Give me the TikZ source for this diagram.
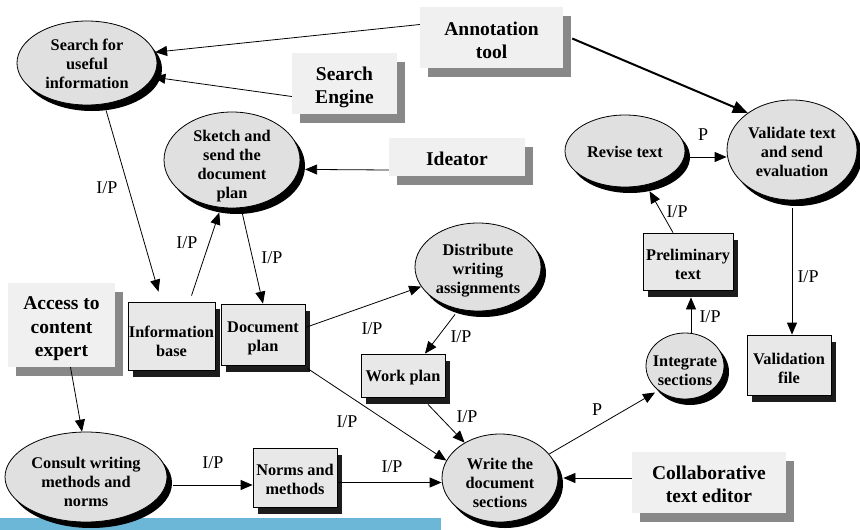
\documentclass[tikz,border=0pt]{standalone}
\usepackage{fontspec}
\setmainfont{Liberation Serif}
\usetikzlibrary{shapes.geometric,shadows,arrows.meta}
\definecolor{procfill}{RGB}{224,224,224}
\definecolor{storefill}{RGB}{232,232,232}
\definecolor{toolfill}{RGB}{240,240,240}
\definecolor{toolshadow}{RGB}{136,136,136}
\definecolor{storeshadow}{RGB}{28,28,28}
\definecolor{barblue}{RGB}{108,182,216}
\begin{document}
\begin{tikzpicture}[x=1pt,y=-1pt,
  sz/.style 2 args={minimum width=#1pt, minimum height=#2pt},
  proc/.style={ellipse, draw=black, line width=0.8pt, fill=procfill, inner sep=0pt,
    drop shadow={shadow xshift=5pt, shadow yshift=-6pt, fill=black, opacity=1}},
  store/.style={rectangle, draw=black, line width=0.8pt, fill=storefill, inner sep=0pt,
    drop shadow={shadow xshift=5pt, shadow yshift=-7pt, fill=storeshadow, opacity=1}},
  tool/.style={rectangle, fill=toolfill, inner sep=0pt,
    drop shadow={shadow xshift=8pt, shadow yshift=-9pt, fill=toolshadow, opacity=1}},
  ptext/.style={inner sep=0pt, align=center, font=\bfseries\fontsize{16.3}{19}\selectfont},
  ttext/.style={inner sep=0pt, align=center, font=\bfseries\fontsize{19.5}{23.5}\selectfont},
  flow/.style={-{Triangle[length=12pt,width=10pt]}, line width=0.8pt},
  bigflow/.style={-{Triangle[length=15pt,width=12pt]}, line width=2pt},
  lbl/.style={font=\fontsize{18}{20}\selectfont, inner sep=0pt}]
\useasboundingbox (0,0) rectangle (860,530);

% bottom band
\fill[barblue] (0,518) rectangle (441,530);

% processes
\node[proc, sz={140}{84}] (srch) at (87,63) {};
\node[proc, sz={136}{96}] (sketch) at (232,160) {};
\node[proc, sz={126}{88}] (distr) at (478,267) {};
\node[proc, sz={120}{72}] (revise) at (625,151) {};
\node[proc, sz={130}{100}] (valid) at (792,150) {};
\node[proc, sz={78}{66}] (integ) at (685,366) {};
\node[proc, sz={116}{88}] (write) at (500,478) {};
\node[proc, sz={162}{90}] (consult) at (86,477) {};

\node[ptext] (srch-t) at ([yshift=-1pt]srch) {Search for\\useful\\information};
\node[ptext] (sketch-t) at ([yshift=-6pt]sketch) {Sketch and\\send the\\document\\plan};
\node[ptext] (distr-t) at ([yshift=-4pt]distr) {Distribute\\writing\\assignments};
\node[ptext] (revise-t) at ([yshift=-1pt]revise) {Revise text};
\node[ptext] (valid-t) at ([yshift=-2pt]valid) {Validate text\\and send\\evaluation};
\node[ptext] (integ-t) at ([yshift=-5pt]integ) {Integrate\\sections};
\node[ptext] (write-t) at ([yshift=-5pt]write) {Write the\\document\\sections};
\node[ptext] (consult-t) at ([yshift=-5pt]consult) {Consult writing\\methods and\\norms};

% documents
\node[store, sz={87}{68}] (infob) at (171.5,336) {};
\node[store, sz={84}{61}] (docplan) at (263,334.5) {};
\node[store, sz={84}{43}] (workplan) at (403,375.5) {};
\node[store, sz={84}{59}] (norms) at (295,477.5) {};
\node[store, sz={90}{57}] (prelim) at (688,261.5) {};
\node[store, sz={84}{60}] (vfile) at (789,365) {};

\node[ptext] (infob-t) at ([yshift=-5pt]infob) {Information\\base};
\node[ptext] (docplan-t) at ([yshift=-4pt]docplan) {Document\\plan};
\node[ptext] (workplan-t) at ([yshift=-2pt]workplan) {Work plan};
\node[ptext] (norms-t) at ([yshift=-2pt]norms) {Norms and\\methods};
\node[ptext] (prelim-t) at ([yshift=-3pt]prelim) {Preliminary\\text};
\node[ptext] (vfile-t) at ([yshift=-3pt]vfile) {Validation\\file};

% tools
\node[tool, sz={143}{61}] (annot) at (491.5,37.5) {};
\node[tool, sz={105}{61}] (sengine) at (344.5,83.5) {};
\node[tool, sz={136}{38}] (ideator) at (457,157) {};
\node[tool, sz={107}{84}] (access) at (61.5,325) {};
\node[tool, sz={154}{61}] (collab) at (709,482.5) {};

\node[ttext] (annot-t) at ([yshift=-3pt]annot) {Annotation\\tool};
\node[ttext] (sengine-t) at ([yshift=-4pt]sengine) {Search\\Engine};
\node[ttext] (ideator-t) at ([yshift=-2pt]ideator) {Ideator};
\node[ttext] (access-t) at ([yshift=-4pt]access) {Access to\\content\\expert};
\node[ttext] (collab-t) at ([yshift=-2pt]collab) {Collaborative\\text editor};

% connectors
\draw[flow] ([yshift=13pt]annot.west) -- (srch.9);
\draw[flow] ([yshift=-13pt]sengine.west) -- (srch.-12);
\draw[bigflow] ([xshift=9pt,yshift=-1pt]annot.east) -- (valid.140);
\draw[flow] ([yshift=-13pt]ideator.west) -- ([xshift=6pt]sketch.-8);
\draw[flow] ([xshift=4pt,yshift=-6pt]srch.-70) -- ([xshift=-13pt,yshift=10pt]infob.north);
\draw[flow] ([xshift=20pt,yshift=6pt]infob.north) -- ([yshift=-5pt]sketch.-105);
\draw[flow] ([yshift=-5pt]sketch.-78) -- (docplan.north);
\draw[flow] ([yshift=7pt]docplan.east) -- (distr.199);
\draw[flow] ([yshift=-6pt]distr.-119) -- ([xshift=22pt]workplan.north);
\draw[flow] ([xshift=2pt,yshift=-3pt]docplan.south east) -- (write.162);
\draw[flow] ([xshift=25pt,yshift=-7pt]workplan.south) -- (write.135);
\coordinate (normsout) at ([yshift=-5pt]norms.east);
\draw[flow] (normsout) -- (normsout -| write.west);
\draw[flow] ([xshift=6pt,yshift=-8pt]consult.east) -- ([yshift=-7.5pt]norms.west);
\draw[flow] ([xshift=9pt]access.south) -- (consult.95);
\draw[flow] (write.26) -- ([xshift=-2pt,yshift=-3pt]integ.220);
\draw[flow] ([yshift=4.5pt]collab.west) -- ([xshift=5pt]write.east);
\draw[flow] ([xshift=6pt]integ.north) -- ([xshift=3pt,yshift=-7pt]prelim.south);
\draw[flow] ([xshift=-15pt]prelim.north) -- ([xshift=4pt,yshift=-6pt]revise.-59);
\draw[flow] ([yshift=-6pt]revise.east) -- ([yshift=-7pt]valid.west);
\draw[flow] ([yshift=-8pt]valid.south) -- ([xshift=3pt]vfile.north);

% flow labels
\node[lbl] (l1) at (107,188) {I/P};
\node[lbl] (l2) at (187,243) {I/P};
\node[lbl] (l3) at (272,258) {I/P};
\node[lbl] (l4) at (372,329) {I/P};
\node[lbl] (l5) at (461,337) {I/P};
\node[lbl] (l6) at (347,422) {I/P};
\node[lbl] (l7) at (467,417) {I/P};
\node[lbl] (l8) at (392,467) {I/P};
\node[lbl] (l9) at (213,463) {I/P};
\node[lbl] (l10) at (597,410) {P};
\node[lbl] (l11) at (710,317) {I/P};
\node[lbl] (l12) at (677,212) {I/P};
\node[lbl] (l13) at (703,135) {P};
\node[lbl] (l14) at (808,277) {I/P};
\end{tikzpicture}
\end{document}
